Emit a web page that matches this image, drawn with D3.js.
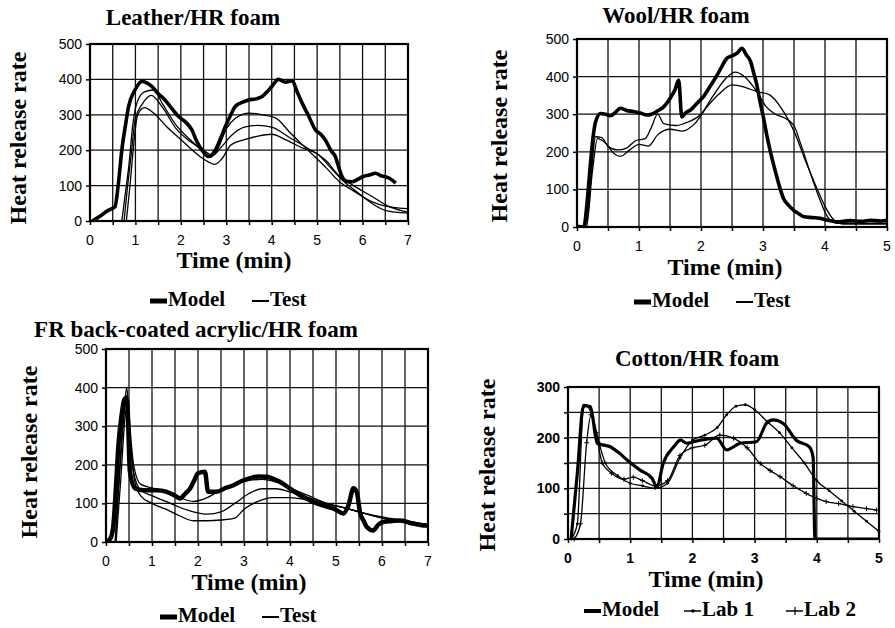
<!DOCTYPE html>
<html>
<head>
<meta charset="utf-8">
<script src="https://cdn.jsdelivr.net/npm/d3@7"></script>
<style>
  body { margin: 0; background: #fff; }
  text { fill: #000; }
</style>
</head>
<body>
<div class="container"></div>
<script>
// values: [time (min), heat release rate]
const leatherModel = [[0.05,0],[0.2,12],[0.4,30],[0.55,40],[0.62,100],[0.7,200],[0.78,270],[0.85,324],[0.99,370],[1.14,394],[1.36,380],[1.5,360],[1.65,342],[1.8,318],[1.95,295],[2.1,280],[2.24,258],[2.35,225],[2.46,201],[2.61,182],[2.76,201],[2.88,235],[2.98,267],[3.1,300],[3.2,324],[3.35,335],[3.49,342],[3.65,345],[3.79,352],[3.9,365],[4.0,380],[4.15,400],[4.3,392],[4.45,396],[4.56,365],[4.67,333],[4.8,300],[4.96,258],[5.08,245],[5.18,229],[5.3,200],[5.4,182],[5.48,150],[5.55,125],[5.65,112],[5.77,111],[5.9,118],[6.0,125],[6.15,130],[6.29,135],[6.4,128],[6.5,125],[6.6,120],[6.73,107]];
const leatherTest1 = [[0.7,0],[0.78,80],[0.85,150],[0.95,280],[1.05,340],[1.2,365],[1.4,370],[1.6,330],[1.9,270],[2.2,230],[2.5,195],[2.65,180],[2.8,200],[3.0,260],[3.2,290],[3.5,305],[3.8,300],[4.1,290],[4.4,250],[4.8,200],[5.2,150],[5.5,110],[5.8,85],[6.2,55],[6.6,40],[7,35]];
const leatherTest2 = [[0.75,0],[0.82,90],[0.9,180],[1.0,290],[1.15,330],[1.35,355],[1.6,320],[1.9,260],[2.2,225],[2.5,200],[2.7,185],[2.9,210],[3.1,240],[3.4,265],[3.7,270],[4.0,265],[4.4,235],[4.8,205],[5.2,170],[5.5,125],[5.8,100],[6.2,70],[6.6,40],[7,25]];
const leatherTest3 = [[0.8,0],[0.88,100],[0.95,200],[1.05,300],[1.2,320],[1.4,305],[1.7,265],[2.0,230],[2.3,195],[2.5,175],[2.75,160],[2.9,175],[3.1,215],[3.4,230],[3.7,240],[4.0,245],[4.3,230],[4.7,205],[5.0,190],[5.3,150],[5.6,110],[5.9,80],[6.2,50],[6.5,30],[7,22]];

const woolModel = [[0,2],[0.11,0],[0.16,60],[0.21,156],[0.26,240],[0.3,280],[0.38,302],[0.46,300],[0.54,296],[0.62,305],[0.7,316],[0.8,310],[0.91,307],[1.02,303],[1.13,298],[1.2,300],[1.29,308],[1.4,320],[1.5,342],[1.58,365],[1.64,391],[1.69,293],[1.76,305],[1.83,311],[1.94,330],[2.04,347],[2.15,375],[2.26,404],[2.34,428],[2.42,449],[2.5,455],[2.58,462],[2.66,475],[2.73,458],[2.8,440],[2.85,410],[2.9,378],[2.95,335],[3.01,289],[3.06,245],[3.12,200],[3.18,160],[3.23,129],[3.28,100],[3.33,76],[3.41,58],[3.49,45],[3.58,35],[3.66,27],[3.8,25],[3.92,23],[4.05,18],[4.19,14],[4.4,17],[4.6,15],[4.73,18],[4.9,16],[5,18]];
const woolTest1 = [[0,0],[0.15,0],[0.22,120],[0.3,240],[0.4,238],[0.5,215],[0.65,205],[0.8,210],[0.95,230],[1.1,235],[1.2,265],[1.3,300],[1.4,275],[1.6,270],[1.8,280],[2.0,300],[2.2,350],[2.4,395],[2.55,412],[2.7,400],[2.9,360],[3.05,320],[3.2,300],[3.35,290],[3.5,270],[3.6,225],[3.75,150],[3.9,80],[4.05,25],[4.2,10],[5,10]];
const woolTest2 = [[0,0],[0.15,0],[0.25,150],[0.33,235],[0.45,225],[0.6,195],[0.7,188],[0.85,205],[1.0,220],[1.15,215],[1.3,245],[1.5,260],[1.7,255],[1.9,275],[2.1,320],[2.3,355],[2.5,378],[2.7,372],[2.9,360],[3.1,352],[3.3,315],[3.5,255],[3.7,170],[3.85,110],[4.0,55],[4.15,18],[4.3,8],[5,8]];

const frModel = [[0,0],[0.1,10],[0.16,43],[0.22,150],[0.27,251],[0.34,329],[0.41,372],[0.46,365],[0.52,182],[0.63,139],[0.81,134],[1.1,134],[1.32,130],[1.5,120],[1.61,113],[1.72,125],[1.83,139],[1.92,160],[2.0,178],[2.15,182],[2.22,130],[2.4,130],[2.6,140],[2.77,147],[2.95,158],[3.13,165],[3.3,170],[3.49,169],[3.65,163],[3.78,156],[4.0,138],[4.22,121],[4.4,110],[4.58,100],[4.76,93],[4.94,87],[5.16,74],[5.27,95],[5.38,139],[5.45,130],[5.52,78],[5.6,55],[5.67,39],[5.81,30],[5.92,45],[6.03,52],[6.2,54],[6.39,56],[6.6,50],[6.9,43],[7,43]];
const frTest1 = [[0.2,0],[0.3,200],[0.4,350],[0.45,400],[0.5,330],[0.6,200],[0.75,150],[1.0,140],[1.3,130],[1.6,115],[1.9,105],[2.2,115],[2.5,135],[2.8,150],[3.1,160],[3.4,162],[3.7,155],[4.0,140],[4.4,120],[4.8,100],[5.2,88],[5.6,75],[6,65],[6.5,55],[7,45]];
const frTest2 = [[0.2,0],[0.3,180],[0.4,340],[0.45,380],[0.5,300],[0.6,180],[0.75,135],[1.0,120],[1.3,105],[1.6,90],[1.9,78],[2.2,72],[2.5,78],[2.8,100],[3.1,125],[3.4,138],[3.7,138],[4.0,130],[4.4,115],[4.8,100],[5.2,88],[5.6,75],[6,63],[6.5,55],[7,45]];
const frTest3 = [[0.22,0],[0.32,160],[0.42,330],[0.47,360],[0.52,280],[0.62,160],[0.75,120],[1.0,100],[1.3,85],[1.6,68],[1.9,55],[2.2,55],[2.5,57],[2.8,62],[3.0,85],[3.3,105],[3.6,115],[4.0,115],[4.4,108],[4.8,98],[5.2,88],[5.6,75],[6,62],[6.5,52],[7,45]];

const cottonModel = [[0.05,0],[0.15,130],[0.25,264],[0.36,261],[0.47,189],[0.68,182],[0.82,170],[0.95,156],[1.16,136],[1.35,120],[1.43,103],[1.53,149],[1.7,182],[1.81,195],[1.91,189],[2.12,195],[2.39,199],[2.55,176],[2.77,189],[3.03,192],[3.19,228],[3.3,235],[3.46,228],[3.67,195],[3.88,182],[3.94,162],[3.97,0],[5,0]];
const cottonLab1 = [[0.05,0],[0.15,30],[0.25,260],[0.3,262],[0.4,240],[0.5,190],[0.6,150],[0.8,125],[1.0,110],[1.2,105],[1.4,100],[1.6,110],[1.8,160],[2.0,195],[2.2,205],[2.4,220],[2.55,245],[2.7,262],[2.85,265],[3.0,255],[3.2,232],[3.4,210],[3.6,180],[3.8,150],[4.0,115],[4.2,95],[4.4,75],[4.6,55],[4.8,35],[5.0,15]];
const cottonLab2 = [[0.1,0],[0.2,30],[0.3,190],[0.37,245],[0.45,210],[0.55,150],[0.7,130],[0.9,118],[1.05,122],[1.2,115],[1.4,105],[1.6,115],[1.8,165],[2.0,180],[2.2,185],[2.44,205],[2.66,199],[2.88,180],[3.09,149],[3.25,135],[3.41,123],[3.62,105],[3.83,90],[4.0,80],[4.15,74],[4.35,70],[4.58,64],[4.8,60],[4.96,57]];

const panelTitles = ["Leather/HR foam", "Wool/HR foam", "FR back-coated acrylic/HR foam", "Cotton/HR foam"];
const yLabel = "Heat release rate";
const xLabel = "Time (min)";

const serif = "'Liberation Serif', 'Times New Roman', Times, 'DejaVu Serif', serif";
const sans = "'Liberation Sans', Arial, Helvetica, sans-serif";

const svg = d3.select(".container")
  .append("svg")
  .attr("width", 895)
  .attr("height", 628);

// one panel: box in pixels, domains, series
function drawPanel(p) {
  const x = d3.scaleLinear().domain([0, p.xMax]).range([p.left, p.right]);
  const y = d3.scaleLinear().domain([0, p.yMax]).range([p.bottom, p.top]);
  const g = svg.append("g");

  // grid
  g.append("g").selectAll("line")
    .data(d3.range(0, p.xMax + 0.01, 0.5))
    .join("line")
    .attr("x1", d => x(d)).attr("x2", d => x(d))
    .attr("y1", p.top).attr("y2", p.bottom)
    .attr("stroke", "#111").attr("stroke-width", 1.3);
  g.append("g").selectAll("line")
    .data(d3.range(0, p.yMax + 0.01, p.yGrid))
    .join("line")
    .attr("x1", p.left).attr("x2", p.right)
    .attr("y1", d => y(d)).attr("y2", d => y(d))
    .attr("stroke", "#111").attr("stroke-width", 1.3);

  // axes
  g.append("g")
    .attr("transform", `translate(0,${p.bottom})`)
    .call(d3.axisBottom(x).tickValues(d3.range(0, p.xMax + 0.01, 0.5)).tickSize(4).tickFormat(""))
    .call(a => a.select(".domain").remove())
    .selectAll("line").attr("stroke-width", 1.5);
  g.append("g")
    .attr("transform", `translate(${p.left},0)`)
    .call(d3.axisLeft(y).tickValues(d3.range(0, p.yMax + 0.01, p.yGrid)).tickSize(4).tickFormat(""))
    .call(a => a.select(".domain").remove())
    .selectAll("line").attr("stroke-width", 1.5);

  g.append("g").selectAll("text")
    .data(d3.range(0, p.xMax + 0.01, 1))
    .join("text")
    .attr("font-family", sans).attr("font-size", 14)
    .attr("font-weight", p.boldTicks ? "bold" : "normal")
    .attr("x", d => x(d)).attr("y", p.bottom + 24)
    .attr("text-anchor", "middle")
    .text(d => d);
  g.append("g").selectAll("text")
    .data(d3.range(0, p.yMax + 0.01, 100))
    .join("text")
    .attr("font-family", sans).attr("font-size", 14)
    .attr("font-weight", p.boldTicks ? "bold" : "normal")
    .attr("x", p.left - 8).attr("y", d => y(d) + 5)
    .attr("text-anchor", "end")
    .text(d => d);

  // frame
  g.append("rect")
    .attr("x", p.left).attr("y", p.top)
    .attr("width", p.right - p.left).attr("height", p.bottom - p.top)
    .attr("fill", "none").attr("stroke", "#000").attr("stroke-width", 2.2);

  const line = d3.line().x(d => x(d[0])).y(d => y(d[1])).curve(d3.curveMonotoneX);
  const clip = "clip" + p.id;
  svg.append("clipPath").attr("id", clip).append("rect")
    .attr("x", p.left).attr("y", p.top - 4)
    .attr("width", p.right - p.left).attr("height", p.bottom - p.top + 4);

  p.series.forEach(s => {
    g.append("path")
      .datum(s.data)
      .attr("clip-path", `url(#${clip})`)
      .attr("fill", "none")
      .attr("stroke", "#000")
      .attr("stroke-width", s.w)
      .attr("stroke-linejoin", "round")
      .attr("d", line);
    if (s.marker === "dot") {
      g.append("g").selectAll("circle").data(s.data).join("circle")
        .attr("cx", d => x(d[0])).attr("cy", d => y(d[1])).attr("r", 1.4).attr("fill", "#000");
    }
    if (s.marker === "plus") {
      g.append("g").selectAll("path").data(s.data).join("path")
        .attr("d", d => `M${x(d[0]) - 2.5},${y(d[1])}h5M${x(d[0])},${y(d[1]) - 2.5}v5`)
        .attr("stroke", "#000").attr("stroke-width", 1);
    }
  });

  // titles
  svg.append("text")
    .attr("font-family", serif).attr("font-weight", "bold").attr("font-size", 23)
    .attr("x", p.titleX).attr("y", p.titleY)
    .attr("text-anchor", "middle")
    .text(p.title);
  svg.append("text")
    .attr("font-family", serif).attr("font-weight", "bold").attr("font-size", 24)
    .attr("transform", `translate(${p.yLabX},${p.yLabY}) rotate(-90)`)
    .attr("text-anchor", "middle")
    .text(yLabel);
  svg.append("text")
    .attr("font-family", serif).attr("font-weight", "bold").attr("font-size", 24)
    .attr("x", p.xLabX).attr("y", p.xLabY)
    .attr("text-anchor", "middle")
    .text(xLabel);

  // legend
  const lg = svg.append("g").attr("transform", `translate(${p.legX},${p.legY})`);
  p.legend.forEach(l => {
    lg.append("line")
      .attr("x1", l.dx).attr("x2", l.dx + 17)
      .attr("y1", -5).attr("y2", -5)
      .attr("stroke", "#000").attr("stroke-width", l.w);
    if (l.marker === "dot") lg.append("circle").attr("cx", l.dx + 9).attr("cy", -5).attr("r", 1.8);
    if (l.marker === "plus") lg.append("path").attr("d", `M${l.dx + 9},${-9}v8`).attr("stroke", "#000").attr("stroke-width", 1.2);
    lg.append("text")
      .attr("font-family", serif).attr("font-weight", "bold").attr("font-size", 21)
      .attr("x", l.dx + 18).attr("y", 0)
      .text(l.label);
  });
}

const modelTest = w => [{ label: "Model", w: w, dx: 0 }, { label: "Test", w: 2, dx: 102 }];

drawPanel({
  id: 1, left: 90, right: 408, top: 44, bottom: 221, xMax: 7, yMax: 500, yGrid: 100,
  series: [
    { data: leatherTest1, w: 1.3 }, { data: leatherTest2, w: 1.3 }, { data: leatherTest3, w: 1.3 },
    { data: leatherModel, w: 3.6 }
  ],
  title: panelTitles[0], titleX: 193, titleY: 25,
  yLabX: 26, yLabY: 138, xLabX: 234, xLabY: 268,
  legX: 150, legY: 306, legend: modelTest(5)
});

drawPanel({
  id: 2, left: 577, right: 887, top: 39, bottom: 227, xMax: 5, yMax: 500, yGrid: 100,
  series: [
    { data: woolTest1, w: 1.3 }, { data: woolTest2, w: 1.3 },
    { data: woolModel, w: 3.6 }
  ],
  title: panelTitles[1], titleX: 676, titleY: 23,
  yLabX: 507, yLabY: 136, xLabX: 725, xLabY: 275,
  legX: 634, legY: 307, legend: modelTest(5)
});

drawPanel({
  id: 3, left: 106, right: 428, top: 349, bottom: 542, xMax: 7, yMax: 500, yGrid: 100,
  series: [
    { data: frTest1, w: 1.3 }, { data: frTest2, w: 1.3 }, { data: frTest3, w: 1.3 },
    { data: frModel, w: 4.5 }
  ],
  title: panelTitles[2], titleX: 196, titleY: 337,
  yLabX: 37, yLabY: 452, xLabX: 249, xLabY: 590,
  legX: 160, legY: 622, legend: modelTest(5)
});

drawPanel({
  id: 4, left: 568, right: 879, top: 387, bottom: 539, xMax: 5, yMax: 300, yGrid: 50, boldTicks: true,
  series: [
    { data: cottonLab2, w: 1.3, marker: "plus" }, { data: cottonLab1, w: 1.3, marker: "dot" },
    { data: cottonModel, w: 3.2 }
  ],
  title: panelTitles[3], titleX: 697, titleY: 366,
  yLabX: 495, yLabY: 465, xLabX: 706, xLabY: 587,
  legX: 584, legY: 616,
  legend: [
    { label: "Model", w: 4, dx: 0 },
    { label: "Lab 1", w: 1.5, dx: 100, marker: "dot" },
    { label: "Lab 2", w: 1.5, dx: 202, marker: "plus" }
  ]
});
</script>
</body>
</html>
